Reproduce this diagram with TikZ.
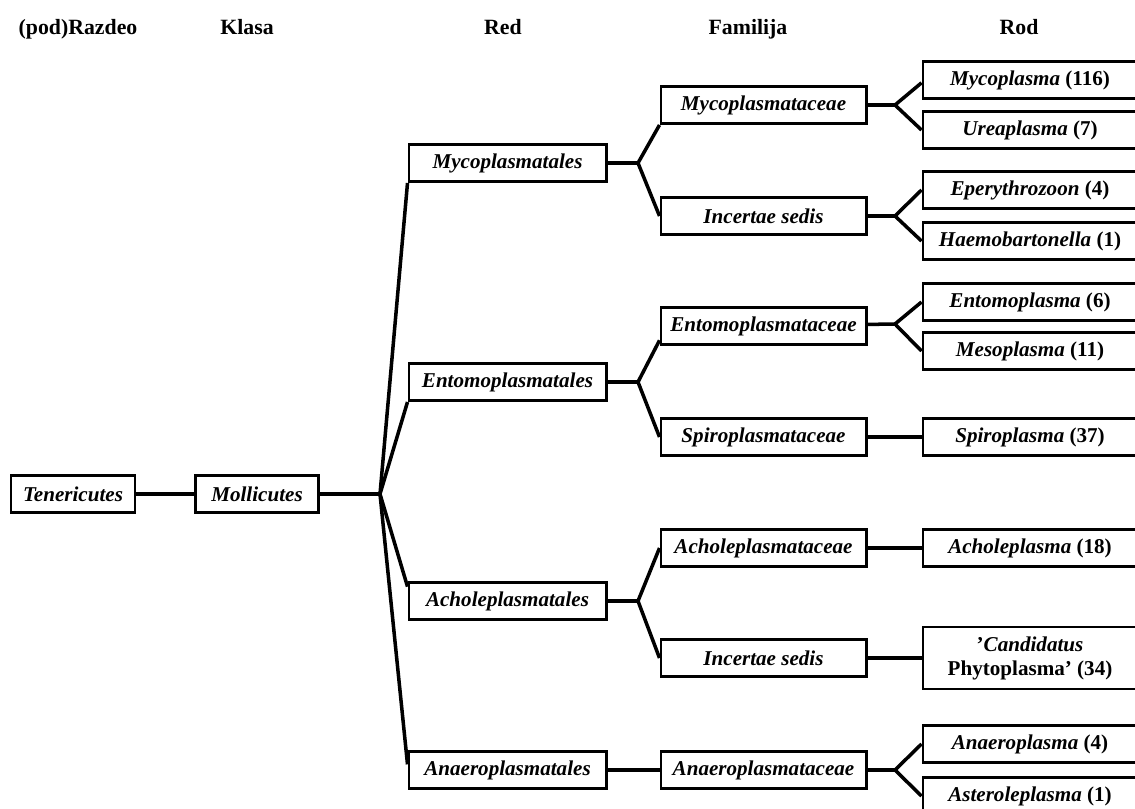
\documentclass[tikz,border=0pt]{standalone}
\usepackage{fontspec}
\setmainfont{Liberation Serif}
\usepackage{tikz}
\usetikzlibrary{positioning}

\begin{document}
\begin{tikzpicture}[
  x=0.025cm, y=-0.025cm,
  box/.style={draw, rectangle, line width=2.1pt, minimum height=0.925cm,
              inner sep=0pt, font=\fontsize{15}{17}\selectfont\bfseries\itshape},
  redbox/.style={box, minimum width=4.925cm},
  fambox/.style={box, minimum width=5.125cm},
  rodbox/.style={box, minimum width=5.35cm},
  head/.style={anchor=base, font=\fontsize{15.5}{17}\selectfont\bfseries},
  link/.style={line width=2.5pt}
]
\useasboundingbox (0,0) rectangle (1135,808);
\fill[white] (0,0) rectangle (1135,808);

% column titles
\node[head] (hrazdeo) at (78,35) {(pod)Razdeo};
\node[head] (hklasa) at (247,35) {Klasa};
\node[head] (hred) at (503,35) {Red};
\node[head] (hfam) at (748,35) {Familija};
\node[head] (hrod) at (1019,35) {Rod};

% razdeo, klasa
\node[box, minimum width=3.1cm] (tenericutes) at (73,494) {Tenericutes};
\node[box, minimum width=3.075cm] (mollicutes) at (257,494) {Mollicutes};

% red
\node[redbox] (mycoplasmatales) at (507.5,163) {Mycoplasmatales};
\node[redbox] (entomoplasmatales) at (507.5,382) {Entomoplasmatales};
\node[redbox] (acholeplasmatales) at (507.5,601) {Acholeplasmatales};
\node[redbox] (anaeroplasmatales) at (507.5,770) {Anaeroplasmatales};

% familija
\node[fambox] (mycoplasmataceae) at (763.5,105) {Mycoplasmataceae};
\node[fambox] (incertaeA) at (763.5,216) {Incertae sedis};
\node[fambox] (entomoplasmataceae) at (763.5,326) {Entomoplasmataceae};
\node[fambox] (spiroplasmataceae) at (763.5,437) {Spiroplasmataceae};
\node[fambox] (acholeplasmataceae) at (763.5,548) {Acholeplasmataceae};
\node[fambox] (incertaeB) at (763.5,658) {Incertae sedis};
\node[fambox] (anaeroplasmataceae) at (763.5,770) {Anaeroplasmataceae};

% rod
\node[rodbox] (mycoplasma) at (1030,80) {Mycoplasma {\upshape(116)}};
\node[rodbox] (ureaplasma) at (1030,130) {Ureaplasma {\upshape(7)}};
\node[rodbox] (eperythrozoon) at (1030,190) {Eperythrozoon {\upshape(4)}};
\node[rodbox] (haemobartonella) at (1030,241) {Haemobartonella {\upshape(1)}};
\node[rodbox] (entomoplasma) at (1030,302) {Entomoplasma {\upshape(6)}};
\node[rodbox] (mesoplasma) at (1030,351) {Mesoplasma {\upshape(11)}};
\node[rodbox] (spiroplasma) at (1030,437) {Spiroplasma {\upshape(37)}};
\node[rodbox] (acholeplasma) at (1030,548) {Acholeplasma {\upshape(18)}};
\node[rodbox, minimum height=1.55cm, align=center] (candidatus) at (1030,658)
  {{\upshape’}Candidatus\\{\upshape Phytoplasma’ (34)}};
\node[rodbox] (anaeroplasma) at (1030,744) {Anaeroplasma {\upshape(4)}};
\node[rodbox] (asteroleplasma) at (1030,796) {Asteroleplasma {\upshape(1)}};

% branch points
\coordinate (kbranch) at (380,494);
\coordinate (mbranch) at (638,163);
\coordinate (ebranch) at (638,382);
\coordinate (abranch) at (638,601);
\coordinate (mcbranch) at (895,105);
\coordinate (isbranch) at (895,216);
\coordinate (ecbranch) at (895,324);
\coordinate (acbranch) at (895,770);

\draw[link] (tenericutes) -- (mollicutes);
\draw[link] (mollicutes) -- (kbranch);
\draw[link] (kbranch) -- (mycoplasmatales.south west);
\draw[link] (kbranch) -- (entomoplasmatales.south west);
\draw[link] (kbranch) -- ([yshift=-4pt]acholeplasmatales.north west);
\draw[link] (kbranch) -- ([yshift=4pt]anaeroplasmatales.west);

\draw[link] (mycoplasmatales) -- (mbranch);
\draw[link] (mbranch) -- (mycoplasmataceae.south west);
\draw[link] (mbranch) -- (incertaeA.west);
\draw[link] (entomoplasmatales) -- (ebranch);
\draw[link] (ebranch) -- ([yshift=4pt]entomoplasmataceae.south west);
\draw[link] (ebranch) -- (spiroplasmataceae.west);
\draw[link] (acholeplasmatales) -- (abranch);
\draw[link] (abranch) -- (acholeplasmataceae.west);
\draw[link] (abranch) -- (incertaeB.west);
\draw[link] (anaeroplasmatales) -- (anaeroplasmataceae);

\draw[link] (mycoplasmataceae) -- (mcbranch);
\draw[link] (mcbranch) -- ([yshift=-2pt]mycoplasma.west);
\draw[link] (mcbranch) -- (ureaplasma.west);
\draw[link] (incertaeA) -- (isbranch);
\draw[link] (isbranch) -- (eperythrozoon.west);
\draw[link] (isbranch) -- (haemobartonella.west);
\draw[link] (entomoplasmataceae) -- (ecbranch);
\draw[link] (ecbranch) -- (entomoplasma.west);
\draw[link] (ecbranch) -- (mesoplasma.west);
\draw[link] (spiroplasmataceae) -- (spiroplasma);
\draw[link] (acholeplasmataceae) -- (acholeplasma);
\draw[link] (incertaeB) -- (candidatus);
\draw[link] (anaeroplasmataceae) -- (acbranch);
\draw[link] (acbranch) -- (anaeroplasma.west);
\draw[link] (acbranch) -- (asteroleplasma.west);
\end{tikzpicture}
\end{document}
